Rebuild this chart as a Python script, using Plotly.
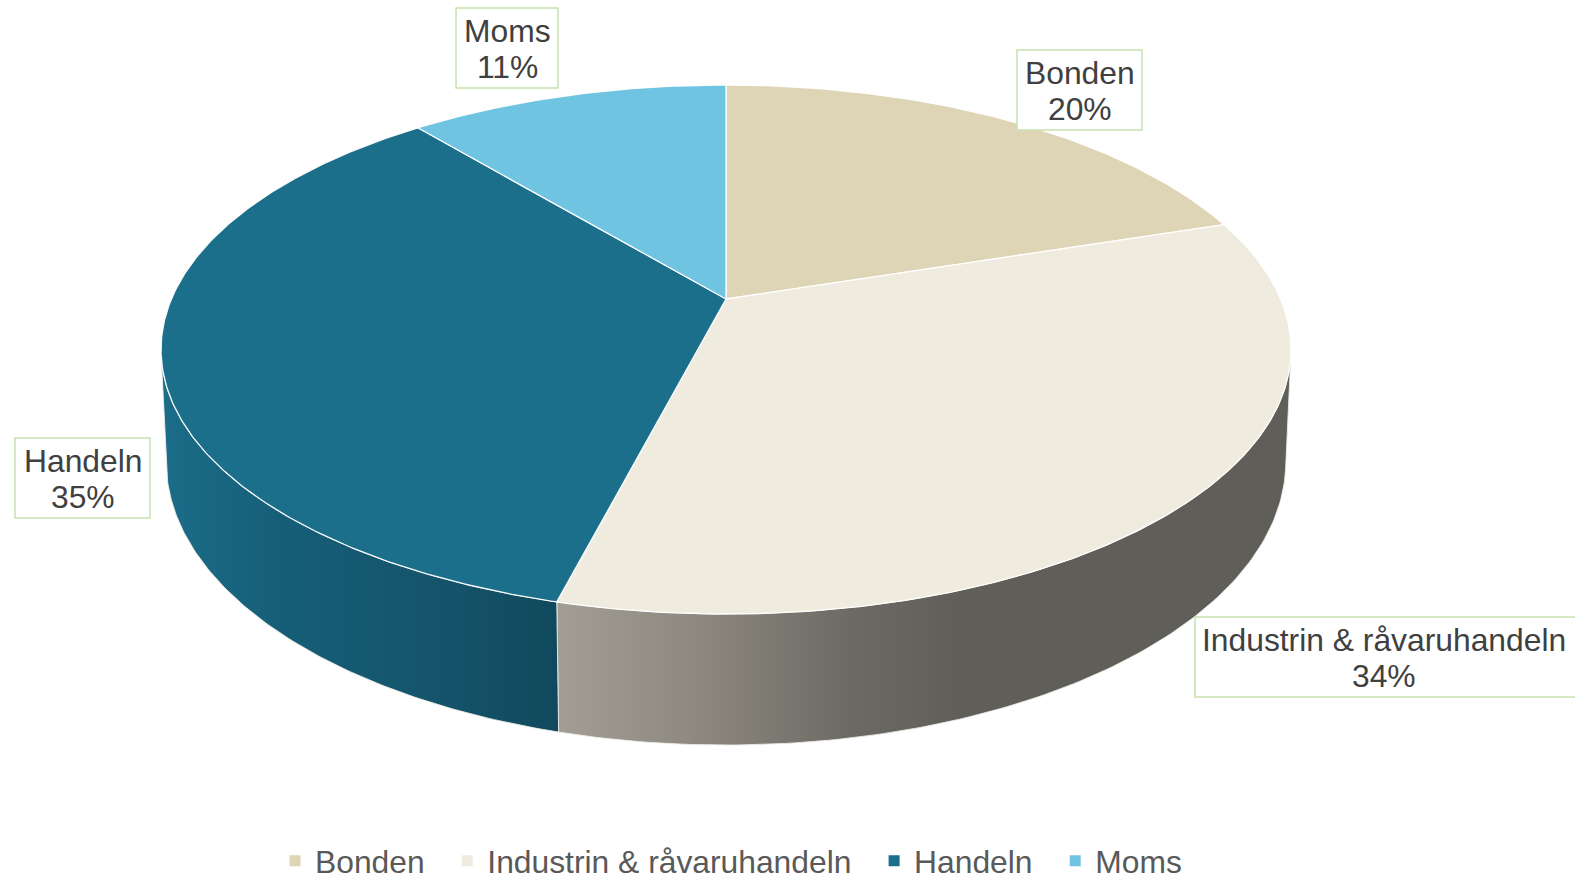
import numpy as np
import plotly.graph_objects as go

# Price breakdown shares (percent)
categories = ["Bonden", "Industrin & råvaruhandeln", "Handeln", "Moms"]
shares = [20, 34, 35, 11]

top_colors = ["#ddd5b5", "#efebdf", "#1b6f8b", "#6ec4e1"]
side_scales = [
    [[0, "#bdb595"], [1, "#8f8970"]],
    [[0, "#a29e96"], [0.2, "#8c887f"], [0.4, "#6d6a64"], [0.55, "#5f5e59"], [1, "#5f5e59"]],
    [[0, "#1b6d89"], [0.3, "#165e77"], [0.7, "#14546b"], [1, "#10495d"]],
    [[0, "#5aa9c4"], [1, "#3f8aa4"]],
]

# Perspective view of a unit disc: camera elevation, distance, screen scales
COS_E = 0.95
SIN_E = np.sqrt(1 - COS_E ** 2)
DIST = 4.975
FX, FY = 2759.0, 4061.0
THICK = 0.1418
CX, CY = 726.0, 299.0

W, H = 1575, 882
TEXT = "#404040"
FONT = "Liberation Sans, Arial, sans-serif"
NBSP = "\u00a0"


def project(theta_deg, z=0.0, r=1.0):
    t = np.radians(theta_deg)
    X, Y = r * np.cos(t), r * np.sin(t)
    yc = Y * SIN_E + z * COS_E
    zc = Y * COS_E + DIST - z * SIN_E
    return CX + FX * X / zc, CY - FY * yc / zc


# angular extent of each slice, clockwise from 12 o'clock
bounds = []
acc = 0.0
for v in shares:
    start = 90 - 360 * acc / sum(shares)
    acc += v
    end = 90 - 360 * acc / sum(shares)
    bounds.append((start, end))

# the outer wall is visible where its normal faces the camera
lim = np.degrees(np.arcsin(1.0 / (DIST * COS_E)))
vis_lo, vis_hi = -180 + lim, -lim

fig = go.Figure()

# outer walls
for i, (start, end) in enumerate(bounds):
    for k in (-360, 0, 360):
        a, b = end + k, start + k
        lo, hi = max(a, vis_lo), min(b, vis_hi)
        if hi <= lo:
            continue
        th = np.linspace(hi, lo, 120)
        xt, yt = project(th, 0.0)
        xb, yb = project(th[::-1], -THICK)
        fig.add_trace(go.Scatter(
            x=np.concatenate([xt, xb, xt[:1]]),
            y=np.concatenate([yt, yb, yt[:1]]),
            mode="lines", fill="toself",
            fillgradient=dict(type="horizontal", colorscale=side_scales[i]),
            line=dict(color="rgba(235,235,230,0.9)", width=1),
            hoverinfo="skip", showlegend=False,
        ))

# top faces
for i, (start, end) in enumerate(bounds):
    n = max(int(abs(start - end) * 2), 20)
    th = np.linspace(start, end, n)
    xa, ya = project(th, 0.0)
    fig.add_trace(go.Scatter(
        x=np.concatenate([[CX], xa, [CX]]),
        y=np.concatenate([[CY], ya, [CY]]),
        mode="lines", fill="toself", fillcolor=top_colors[i],
        line=dict(color="rgba(255,255,255,0.95)", width=1.3),
        name=categories[i], legendgroup=categories[i],
        hoverinfo="name", showlegend=False,
    ))

# legend swatches (non-breaking spaces widen the gap between entries)
for i, name in enumerate(categories):
    pad = NBSP * 2 if i < len(categories) - 1 else ""
    fig.add_trace(go.Scatter(
        x=[None], y=[None], mode="markers", name=name + pad, legendgroup=name,
        marker=dict(symbol="square", size=11, color=top_colors[i]),
    ))

# data labels: centre of each label box and its size
label_pos = [(1079.5, 90), (1385.5, 657), (82.5, 478), (507, 48)]
label_box = [(125, 80), (381, 80), (135, 80), (102, 80)]
shapes = []
annotations = []
for i, name in enumerate(categories):
    x0, y0 = label_pos[i]
    bw, bh = label_box[i]
    shapes.append(dict(type="rect", xref="x", yref="y",
                       x0=x0 - bw / 2, x1=x0 + bw / 2, y0=y0 - bh / 2, y1=y0 + bh / 2,
                       line=dict(color="#c6e2ae", width=1.5), fillcolor="white",
                       layer="above"))
    for txt, dy in ((name, -17), (f"{shares[i]}%", 19)):
        annotations.append(dict(x=x0 - 2 if i == 1 else x0, y=y0 + dy, xref="x", yref="y",
                                text=txt, showarrow=False,
                                font=dict(family=FONT, size=31.8, color=TEXT),
                                xanchor="center", yanchor="middle"))

fig.update_layout(
    width=W, height=H,
    margin=dict(l=0, r=0, t=0, b=0, autoexpand=False),
    paper_bgcolor="white", plot_bgcolor="white",
    xaxis=dict(range=[0, W], visible=False, fixedrange=True),
    yaxis=dict(range=[H, 0], visible=False, fixedrange=True),
    shapes=shapes, annotations=annotations,
    showlegend=True,
    legend=dict(orientation="h", x=731 / W, xanchor="center", y=1 - 861 / H, yanchor="middle",
                font=dict(family=FONT, size=31.8, color="#595959"),
                bgcolor="rgba(0,0,0,0)", itemclick=False, itemdoubleclick=False),
)

fig.write_html("out.html")
